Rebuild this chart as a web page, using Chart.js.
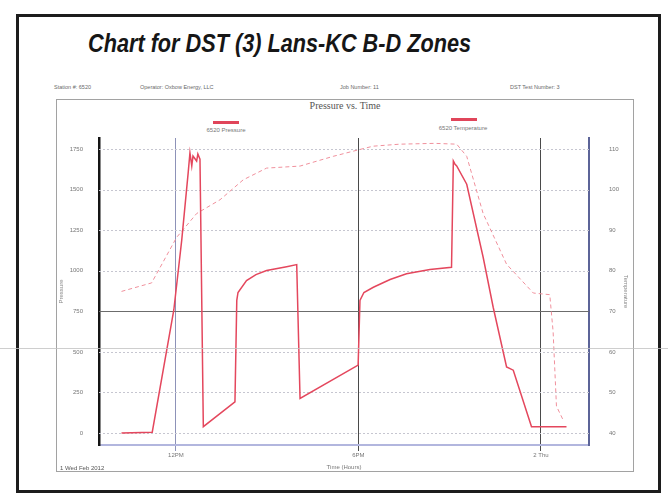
<!DOCTYPE html>
<html>
<head>
<meta charset="utf-8">
<script src="https://cdn.jsdelivr.net/npm/chart.js@4.4.1/dist/chart.umd.min.js"></script>
<style>
  body { margin: 0; width: 668px; height: 503px; overflow: hidden; position: relative; background: #fff; font-family: Arial, "Liberation Sans", sans-serif; }
  .abs { position: absolute; white-space: nowrap; }
  #outer { left: 16px; top: 14px; width: 639px; height: 473px; border: 3px solid #1d1d1d; }
  #title { left: 88px; top: 28px; font-size: 26px; font-weight: bold; font-style: italic; color: #161616; transform-origin: 0 0; font-family: "Liberation Sans Narrow", Arial, sans-serif; }
  .hdr { top: 84px; font-size: 5.5px; color: #6a6a6a; }
  #frame { left: 56px; top: 99px; width: 576px; height: 371px; border: 1px solid #a2a2a2; }
  #chartTitle { left: 345px; top: 100px; transform: translateX(-50%); font-family: "Liberation Serif", "DejaVu Serif", serif; font-size: 10px; color: #555; }
  .bar { height: 3px; width: 26px; background: #e0455a; }
  .leg { font-size: 6px; color: #777; transform: translateX(-50%); }
  #date { left: 60px; top: 465px; font-size: 6px; color: #555; }
  #scanline { left: 0; top: 348px; width: 668px; height: 1px; background: #c2c2c2; opacity: 0.8; }
  #wrap { left: 56px; top: 99px; width: 577px; height: 372px; }
</style>
</head>
<body>
<div class="abs" id="outer"></div>
<div class="abs" id="title">Chart for DST (3) Lans-KC B-D Zones</div>
<div class="abs hdr" style="left:54px">Station #: 6520</div>
<div class="abs hdr" style="left:140px">Operator: Oxbow Energy, LLC</div>
<div class="abs hdr" style="left:340px">Job Number: 11</div>
<div class="abs hdr" style="left:510px">DST Test Number: 3</div>
<div class="abs" id="frame"></div>
<div class="abs" id="chartTitle">Pressure vs. Time</div>
<div class="abs bar" style="left:213px;top:121px"></div>
<div class="abs leg" style="left:226px;top:127px">6520 Pressure</div>
<div class="abs bar" style="left:451px;top:118px"></div>
<div class="abs leg" style="left:463px;top:125px">6520 Temperature</div>
<div class="abs" id="wrap"><canvas id="dstChart" width="577" height="372"></canvas></div>
<div class="abs" id="date">1 Wed Feb 2012</div>
<div class="abs" id="scanline"></div>

<script>
// fit the big title to the width it has in the scan
const $title = document.querySelector('#title');
$title.style.transform = `scaleX(${383 / $title.getBoundingClientRect().width})`;

// time axis: hours from midnight of 1 Feb 2012
const timeTicks = [12, 18, 24];
const timeLabels = ['12PM', '6PM', '2 Thu'];

const pressureTicks = [0, 250, 500, 750, 1000, 1250, 1500, 1750];
const tempTicks = [40, 50, 60, 70, 80, 90, 100, 110];

// 6520 pressure (psi)
const pressureHours = [10.21, 11.22, 11.93, 12.19, 12.40, 12.46, 12.52, 12.56, 12.68, 12.72, 12.79, 12.90,
  13.94, 14.00, 14.04, 14.32, 14.63, 14.98, 15.64, 15.97, 16.08, 17.99, 18.05, 18.18, 18.49, 19.04,
  19.58, 20.35, 21.06, 21.12, 21.17, 21.23, 21.56, 22.10, 22.43, 22.87, 23.09, 23.69, 24.84];
const pressurePsi = [0, 5, 758, 1189, 1600, 1727, 1646, 1707, 1676, 1719, 1687, 39,
  192, 817, 866, 939, 976, 1001, 1025, 1038, 213, 418, 817, 866, 898, 946,
  981, 1007, 1021, 1676, 1658, 1646, 1533, 1083, 775, 407, 387, 39, 39];

// 6520 temperature (deg F)
const tempHours = [10.21, 11.20, 12.02, 12.68, 13.45, 14.21, 14.98, 16.08, 17.17, 18.05, 18.48,
  19.36, 20.50, 21.23, 21.56, 22.10, 22.87, 23.75, 24.29, 24.40, 24.51, 24.73];
const tempDegF = [74.9, 77.0, 88.2, 94.1, 97.5, 102.4, 105.3, 105.8, 108.2, 109.9, 110.7,
  111.2, 111.4, 111.2, 108.2, 94.1, 81.6, 74.5, 74.1, 65.0, 46.6, 43.2];

const toPoints = (xs, ys) => xs.map((x, i) => ({ x, y: ys[i] }));

const tickFont = { size: 6, family: 'Arial' };

// dotted horizontal grid, the 750 line solid
const dottedGrid = {
  id: 'dottedGrid',
  beforeDatasetsDraw(chart) {
    const { ctx, chartArea: a, scales: { y } } = chart;
    ctx.save();
    ctx.lineWidth = 1;
    pressureTicks.forEach((v) => {
      const py = Math.round(y.getPixelForValue(v)) + 0.5;
      ctx.beginPath();
      if (v === 750) {
        ctx.setLineDash([]);
        ctx.strokeStyle = '#6c6c6c';
      } else {
        ctx.setLineDash([2, 2]);
        ctx.strokeStyle = '#c6c6d0';
      }
      ctx.moveTo(a.left, py);
      ctx.lineTo(a.right, py);
      ctx.stroke();
    });
    ctx.restore();
  },
};

const ctx = document.getElementById('dstChart').getContext('2d');
new Chart(ctx, {
  type: 'line',
  data: {
    datasets: [
      {
        label: '6520 Pressure',
        data: toPoints(pressureHours, pressurePsi),
        yAxisID: 'y',
        borderColor: '#e4475d',
        borderWidth: 1.5,
        pointRadius: 0,
        tension: 0,
      },
      {
        label: '6520 Temperature',
        data: toPoints(tempHours, tempDegF),
        yAxisID: 'y1',
        borderColor: '#f0909c',
        borderWidth: 1,
        borderDash: [4, 3],
        pointRadius: 0,
        tension: 0,
      },
    ],
  },
  options: {
    responsive: false,
    animation: false,
    layout: { padding: { top: 39, left: 0, right: 0, bottom: 0 } },
    plugins: { legend: { display: false }, title: { display: false }, tooltip: { enabled: false } },
    scales: {
      x: {
        type: 'linear',
        min: 9.47,
        max: 25.58,
        afterBuildTicks: (s) => { s.ticks = timeTicks.map((v) => ({ value: v })); },
        afterFit: (s) => { s.height = 26; },
        ticks: {
          font: tickFont,
          color: '#777',
          padding: 1,
          maxRotation: 0,
          autoSkip: false,
          callback: (v) => timeLabels[timeTicks.indexOf(v)],
        },
        grid: {
          color: (c) => (c.tick && c.tick.value === 12 ? '#8d92b8' : '#4a4a4a'),
          tickLength: 6,
        },
        border: { color: '#b2b6de', width: 2 },
        title: { display: true, text: 'Time (Hours)', font: tickFont, color: '#777', padding: 0 },
      },
      y: {
        position: 'left',
        min: -74,
        max: 1818,
        afterBuildTicks: (s) => { s.ticks = pressureTicks.map((v) => ({ value: v })); },
        afterFit: (s) => { s.width = 43; },
        ticks: { font: tickFont, color: '#777', padding: 8, callback: (v) => String(v) },
        grid: { display: false },
        border: { color: '#151515', width: 2.5 },
        title: { display: true, text: 'Pressure', font: tickFont, color: '#888', padding: 2 },
      },
      y1: {
        position: 'right',
        min: 37.04,
        max: 112.72,
        afterBuildTicks: (s) => { s.ticks = tempTicks.map((v) => ({ value: v })); },
        afterFit: (s) => { s.width = 44; },
        ticks: { font: tickFont, color: '#777', padding: 12, callback: (v) => String(v) },
        grid: { display: false },
        border: { color: '#5c6498', width: 2 },
        title: { display: true, text: 'Temperature', font: tickFont, color: '#888', padding: 4 },
      },
    },
  },
  plugins: [dottedGrid],
});
</script>
</body>
</html>
